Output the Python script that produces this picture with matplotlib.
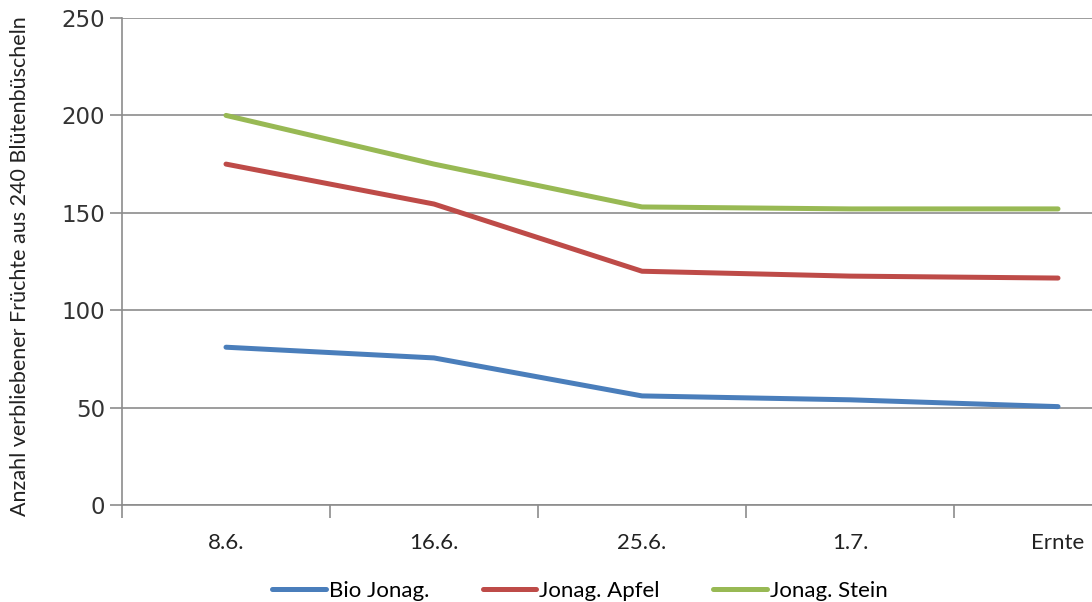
import matplotlib
matplotlib.use('Agg')
import matplotlib.pyplot as plt

# sampling dates and remaining fruit per 240 blossom clusters
dates = ['8.6.', '16.6.', '25.6.', '1.7.', 'Ernte']
bio_jonag = [81, 75.5, 56, 54, 50.5]
jonag_apfel = [175, 154.5, 120, 117.5, 116.5]
jonag_stein = [200, 175, 153, 152, 152]
series_names = ['Bio Jonag.', 'Jonag. Apfel', 'Jonag. Stein']
y_ticks = [0, 50, 100, 150, 200, 250]

plt.rcParams['font.family'] = ['Lato', 'DejaVu Sans']

colors = ['#4A7EBB', '#BE4B48', '#98B954']
grid_col = '#8C8C8C'

fig = plt.figure(figsize=(10.92, 6.02), dpi=100)
ax = fig.add_axes([122 / 1092, 1 - 505 / 602, 1040 / 1092, 487 / 602])

x = range(len(dates))
for vals, name, c in zip([bio_jonag, jonag_apfel, jonag_stein], series_names, colors):
    ax.plot(x, vals, color=c, lw=3.6, solid_capstyle='round', label=name, zorder=3)

ax.set_xlim(-0.5, len(dates) - 0.5)
ax.set_ylim(0, 250)
ax.set_yticks(y_ticks)
ax.set_yticklabels([str(v) for v in y_ticks], family='DejaVu Sans', fontsize=16.5, color='#333333')
ax.yaxis.grid(True, color=grid_col, lw=1.2)
ax.set_axisbelow(True)

# category labels centred, tick marks on the category boundaries
ax.set_xticks(list(x))
ax.set_xticklabels(dates, fontsize=16, color='#222222')
ax.tick_params(axis='x', length=0, pad=20)
ax.set_xticks([i - 0.5 for i in range(len(dates) + 1)], minor=True)
ax.tick_params(axis='x', which='minor', length=9, color=grid_col, width=1.2)
ax.tick_params(axis='y', length=9, color=grid_col, width=1.2, pad=3)

for side in ['top', 'right']:
    ax.spines[side].set_visible(False)
for side in ['left', 'bottom']:
    ax.spines[side].set_color(grid_col)
    ax.spines[side].set_linewidth(1.2)

fig.text(20 / 1092, 1 - 266 / 602, 'Anzahl verbliebener Früchte aus 240 Blütenbüscheln',
         rotation=90, ha='center', va='center', fontsize=15.5, color='#222222')

fig.legend(loc='center', bbox_to_anchor=(580 / 1092, 1 - 591 / 602), ncol=3, frameon=False,
           fontsize=16, handlelength=2.4, handletextpad=0.15, columnspacing=2.4)

fig.savefig('out.png', dpi=100)
